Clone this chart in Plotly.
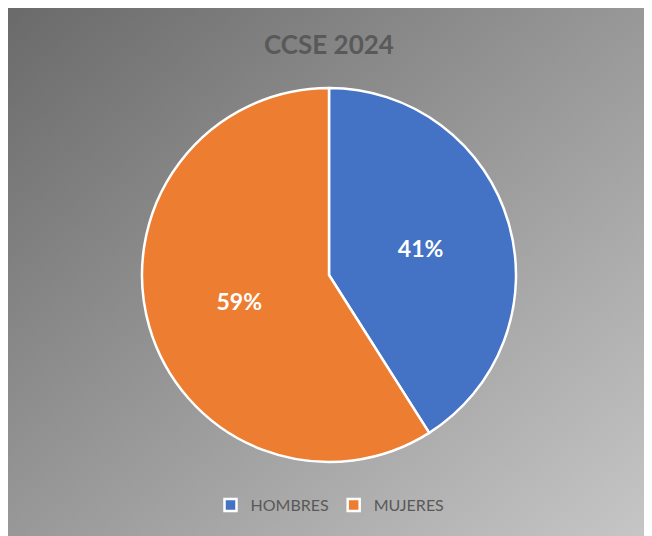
import plotly.graph_objects as go
import urllib.parse

labels = ["HOMBRES", "MUJERES"]
values = [41, 59]
colors = ["#4472C4", "#ED7D31"]
title_text = "CCSE 2024"

# page body has an 8px margin, so figure coords = screen coords - 8
W, H = 644, 528
cx, cy, R = 321, 267, 187
ml, mr, mt, mb = cx - R, W - (cx + R), cy - R, H - (cy + R)
pw = W - ml - mr
ph = H - mt - mb

svg = ('<svg xmlns="http://www.w3.org/2000/svg" width="640" height="531" viewBox="0 0 640 531" preserveAspectRatio="none">'
       '<defs><linearGradient id="g" x1="0" y1="0" x2="1" y2="1">'
       '<stop offset="0" stop-color="#6a6a6a"/><stop offset="1" stop-color="#c6c6c6"/>'
       '</linearGradient></defs><rect x="0" y="0" width="640" height="531" fill="url(#g)"/></svg>')
src = "data:image/svg+xml;charset=utf-8," + urllib.parse.quote(svg)

x0px, y0px, x1px, y1px = 0, -3, 640, 528

fig = go.Figure(go.Pie(
    labels=labels, values=values, sort=False, direction="clockwise", rotation=0,
    marker=dict(colors=colors, line=dict(color="white", width=2.5)),
    textinfo="percent", textposition="inside",
    insidetextfont=dict(color="white", size=23, family="Lato"),
    texttemplate="<b>%{percent:.0%}</b>",
    hoverinfo="label+percent",
))

fig.update_layout(
    width=W, height=H,
    margin=dict(l=ml, r=mr, t=mt, b=mb),
    paper_bgcolor="white",
    title=dict(text="<b>" + title_text + "</b>", x=cx / W, xanchor="center", y=1 - 37 / H, yanchor="middle",
               font=dict(size=26, color="#595959", family="Lato")),
    legend=dict(orientation="h", x=(cx + 1) / W, xanchor="center", xref="container", y=1 - 497 / H, yref="container",
                yanchor="middle", font=dict(size=16, color="#595959", family="Lato"),
                bgcolor="rgba(0,0,0,0)"),
    images=[dict(source=src, xref="paper", yref="paper",
                 x=(x0px - ml) / pw, y=1 + (mt - y0px) / ph,
                 sizex=(x1px - x0px) / pw, sizey=(y1px - y0px) / ph,
                 xanchor="left", yanchor="top", sizing="stretch", layer="below")],
)

fig.write_html("out.html")
